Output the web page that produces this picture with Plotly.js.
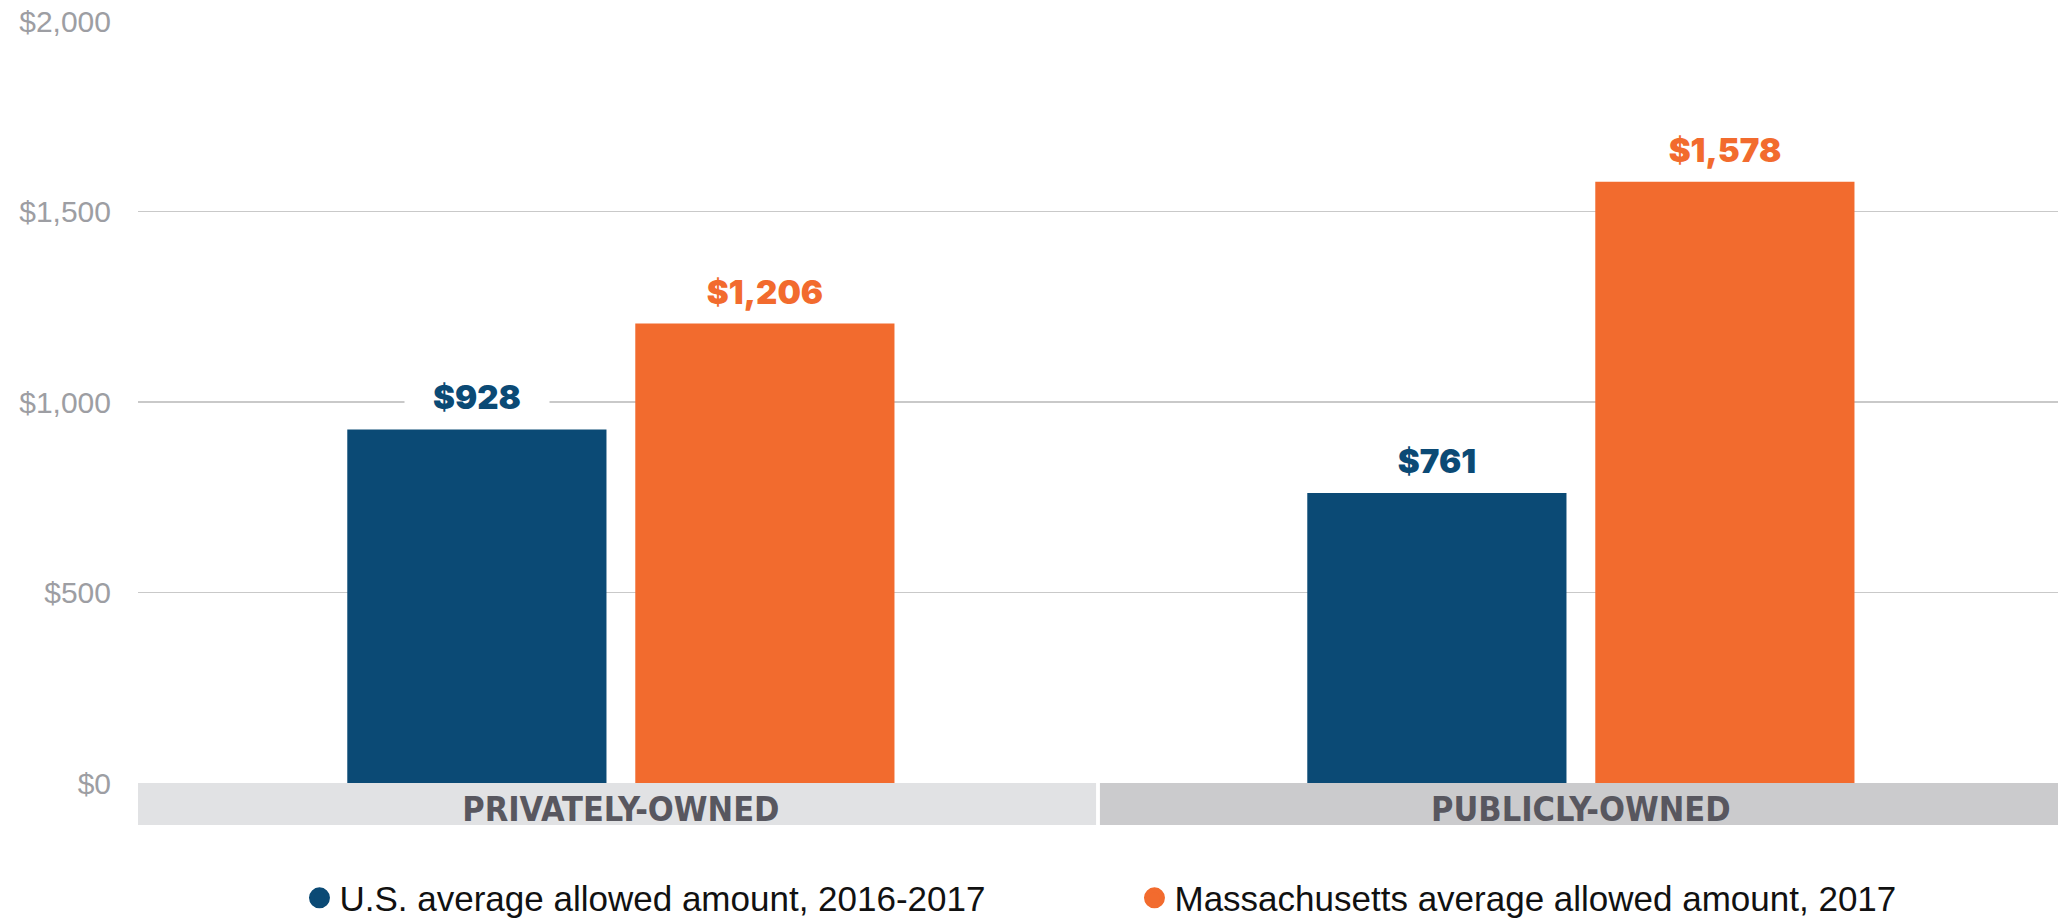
<!DOCTYPE html>
<html>
<head>
<meta charset="utf-8">
<script src="https://cdn.plot.ly/plotly-3.0.1.min.js"></script>
<style>
  html, body { margin: 0; padding: 0; background: #ffffff; }
  #chart { width: 2060px; height: 919px; }
</style>
</head>
<body>
<div id="chart"></div>
<script>
// ---- data ----
const categories = ["PRIVATELY-OWNED", "PUBLICLY-OWNED"];
const seriesNames = ["U.S. average allowed amount, 2016-2017", "Massachusetts average allowed amount, 2017"];
const usValues = [928, 761];
const maValues = [1206, 1578];
const yTickVals = [0, 500, 1000, 1500, 2000];
const yTickText = ["$0", "$500", "$1,000", "$1,500", "$2,000"];

// ---- styles ----
const colors = ["#0b4a75", "#f26b2e"];
const bandColors = ["#e1e2e4", "#cbcbcd"];
const allValues = [usValues, maValues];

const fmt = v => "$" + v.toLocaleString("en-US");

const traces = [];
allValues.forEach((vals, i) => {
  traces.push({
    type: "bar",
    x: categories,
    y: vals,
    name: seriesNames[i],
    marker: { color: colors[i] },
    showlegend: false,
    hoverinfo: "skip"
  });
});
// legend entries with round markers
allValues.forEach((vals, i) => {
  traces.push({
    type: "scatter",
    mode: "markers",
    x: [null],
    y: [null],
    name: seriesNames[i],
    marker: { color: colors[i], size: 16, symbol: "circle", line: { color: colors[i], width: 5 } },
    showlegend: true,
    hoverinfo: "skip"
  });
});

const annotations = [];
const shifts = [-144, 144];
allValues.forEach((vals, i) => {
  vals.forEach((v, j) => {
    annotations.push({
      x: categories[j],
      y: v,
      xref: "x",
      yref: "y",
      xshift: shifts[i],
      yshift: 9,
      yanchor: "bottom",
      showarrow: false,
      text: fmt(v),
      font: { family: "Inter, Roboto, sans-serif", size: 33, color: colors[i], weight: 900 },
      bgcolor: "#ffffff",
      width: 140,
      borderpad: 2
    });
  });
});

const shapes = [
  { type: "rect", xref: "paper", yref: "paper", x0: 0, x1: 0.499, y0: -0.055, y1: 0, fillcolor: bandColors[0], line: { width: 0 }, layer: "below" },
  { type: "rect", xref: "paper", yref: "paper", x0: 0.501, x1: 1, y0: -0.055, y1: 0, fillcolor: bandColors[1], line: { width: 0 }, layer: "below" }
];

const layout = {
  width: 2060,
  height: 919,
  margin: { l: 138, r: 2, t: 21, b: 136, autoexpand: false },
  paper_bgcolor: "#ffffff",
  plot_bgcolor: "#ffffff",
  barmode: "group",
  bargap: 0.4,
  bargroupgap: 0.1,
  showlegend: true,
  legend: {
    orientation: "h",
    x: 0.519,
    xanchor: "center",
    y: -0.151,
    yanchor: "middle",
    bgcolor: "rgba(0,0,0,0)",
    font: { family: "Liberation Sans, Arial, sans-serif", size: 35, color: "#111111" },
    itemwidth: 30,
    traceorder: "normal",
    entrywidth: 790,
    entrywidthmode: "pixels"
  },
  xaxis: {
    type: "category",
    range: [-0.503, 1.497],
    showgrid: false,
    zeroline: false,
    showline: false,
    ticks: "",
    ticklabelstandoff: 3,
    tickfont: { family: "Liberation Sans Narrow, DejaVu Sans Condensed, Liberation Sans, sans-serif", size: 34, color: "#58575f", weight: "bold", stretch: "condensed" }
  },
  yaxis: {
    range: [0, 2000],
    tickvals: yTickVals,
    ticktext: yTickText,
    showgrid: true,
    gridcolor: "#c9c9c9",
    gridwidth: 1.5,
    zeroline: false,
    showline: false,
    ticks: "",
    ticklabelstandoff: 26,
    tickfont: { family: "Liberation Sans, Arial, sans-serif", size: 30, color: "#9d9ea3" }
  },
  shapes: shapes,
  annotations: annotations
};

Plotly.newPlot("chart", traces, layout, { displayModeBar: false, staticPlot: true });
</script>
</body>
</html>
